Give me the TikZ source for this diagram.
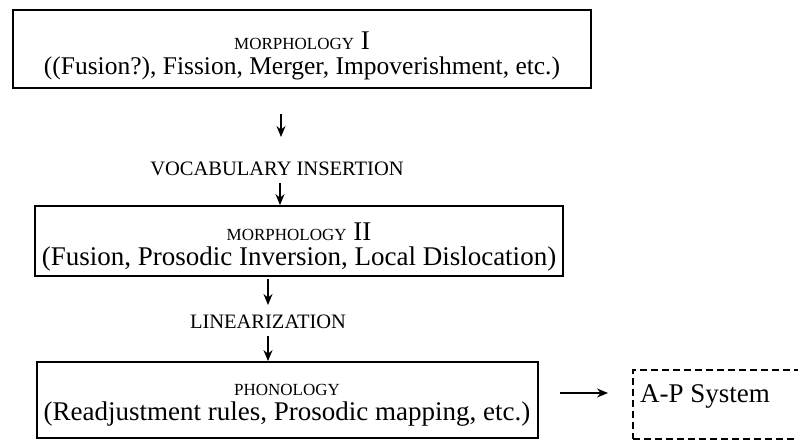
\documentclass[tikz,border=0pt]{standalone}
\usepackage{fontspec}
\setmainfont{Liberation Serif}
\usetikzlibrary{arrows.meta}
\newcommand{\capsz}{\fontsize{20.5}{24}\selectfont}
\newcommand{\boxcapsz}{\fontsize{17}{20}\selectfont}
\begin{document}
\begin{tikzpicture}[x=1pt,y=-1pt,
  stagebox/.style={draw, line width=1.8pt, rectangle, inner sep=0pt},
  flow/.style={line width=1.5pt, -{Stealth[length=11pt,width=9pt]}},
  lbl/.style={inner sep=0pt, font=\capsz, anchor=base},
  body/.style={inner sep=0pt, align=center}]
\useasboundingbox (0,0) rectangle (798,442);
% boxes
\node[stagebox, minimum width=578pt, minimum height=78pt] (m1) at (302,49) {};
\node[stagebox, minimum width=528pt, minimum height=70pt] (m2) at (299,241) {};
\node[stagebox, minimum width=501pt, minimum height=76pt] (ph) at (287.5,400) {};
\node[draw, dashed, line width=1.6pt, dash pattern=on 7pt off 4pt, minimum width=176pt, minimum height=69pt, inner sep=0pt] (ap) at (721,404.5) {};
% texts
\node[body, font=\fontsize{25.5}{25}\selectfont] (m1t) at (302,55.5)
  {{\fontsize{27}{25}\selectfont{\boxcapsz MORPHOLOGY} I}\\((Fusion?), Fission, Merger, Impoverishment, etc.)};
\node[lbl] (vi) at (277,175) {VOCABULARY INSERTION};
\node[body, font=\fontsize{27}{25}\selectfont] (m2t) at (299,247)
  {{\boxcapsz MORPHOLOGY} II\\(Fusion, Prosodic Inversion, Local Dislocation)};
\node[lbl] (li) at (268,328) {LINEARIZATION};
\node[body, font=\fontsize{27}{25}\selectfont] (pht) at (287,405)
  {{\boxcapsz PHONOLOGY}\\(Readjustment rules, Prosodic mapping, etc.)};
\node[inner sep=0pt, font=\fontsize{27}{32}\selectfont, anchor=base west] (apt) at (640,402) {A-P System};
% arrows
\coordinate (a1s) at (281,114);
\coordinate (a1e) at (281,137);
\draw[flow] (a1s) -- (a1e);
\coordinate (a2s) at (280,183);
\draw[flow] (a2s) -- (a2s |- m2.north);
\coordinate (a3s) at (268,279);
\coordinate (a3e) at (268,305);
\draw[flow] (a3s) -- (a3e);
\coordinate (a4s) at (268,336);
\draw[flow] (a4s) -- (a4s |- ph.north);
\coordinate (a5s) at (560,393);
\coordinate (a5e) at (608,393);
\draw[flow] (a5s) -- (a5e);
\end{tikzpicture}
\end{document}
